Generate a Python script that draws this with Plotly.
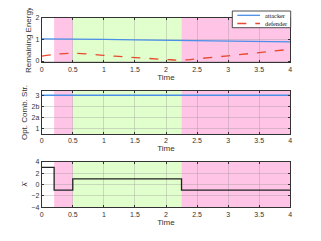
import plotly.graph_objects as go

# Data
t_att = [0, 0.5, 1, 1.5, 2, 2.5, 3, 3.5, 4]
attacker = [1.02, 1.02, 1.0, 0.98, 0.96, 0.94, 0.92, 0.9, 0.88]
t_def = [0, 0.2, 0.5, 1, 1.5, 2, 2.25, 2.5, 3, 3.5, 4]
defender = [0.23, 0.3, 0.36, 0.26, 0.16, 0.07, 0.04, 0.1, 0.24, 0.39, 0.54]
t_str = [0, 4]
strategy = [4, 4]  # position of "3" on the category axis
strat_ticks = [1, 2, 3, 4]
strat_labels = ["1", "2a", "2b", "3"]
t_lam = [0, 0.2, 0.2, 0.5, 0.5, 2.25, 2.25, 4]
lam = [3, 3, -1, -1, 1, 1, -1, -1]
region_bounds = [0.2, 0.5, 2.25, 4]
region_kind = ["pink", "green", "pink"]
region_colors = {"pink": "rgba(255,196,230,1)", "green": "rgba(224,255,204,1)"}
series_names = ["attacker", "defender"]
series_colors = ["#4a8fe8", "#e8482c"]
series_dash = ["solid", "dash"]

fig = go.Figure()
fig.add_trace(go.Scatter(x=t_att, y=attacker, mode="lines", name=series_names[0],
                         line=dict(color=series_colors[0], width=1.3), xaxis="x", yaxis="y"))
fig.add_trace(go.Scatter(x=t_def, y=defender, mode="lines", name=series_names[1], line_shape="spline",
                         line=dict(color=series_colors[1], width=1.3, dash="dash"), xaxis="x", yaxis="y"))
fig.add_trace(go.Scatter(x=t_str, y=strategy, mode="lines",
                         line=dict(color=series_colors[0], width=1.3), xaxis="x2", yaxis="y2"))
fig.add_trace(go.Scatter(x=t_lam, y=lam, mode="lines",
                         line=dict(color="#222222", width=1.3), xaxis="x3", yaxis="y3"))

shapes = []
for xr, yr in [("x", "y"), ("x2", "y2"), ("x3", "y3")]:
    for i, k in enumerate(region_kind):
        shapes.append(dict(type="rect", xref=xr, yref=yr + " domain",
                           x0=region_bounds[i], x1=region_bounds[i + 1], y0=0, y1=1,
                           fillcolor=region_colors[k], line_width=0, layer="below"))

OFF = 8  # page body margin
W, H = 321 - OFF, 241 - OFF
def px(x):
    return (x - OFF) / W
def py(y):
    return 1 - (y - OFF) / H

# manual legend (compact, MATLAB-like)
annotations = []
shapes.append(dict(type="rect", xref="paper", yref="paper", x0=px(232.3), x1=px(290.7),
                   y0=py(27.7), y1=py(11), fillcolor="white", line=dict(color="#222222", width=0.8),
                   layer="above"))
for i, (nm, c, d) in enumerate(zip(series_names, series_colors, series_dash)):
    yy = 15.3 + i * 8.2
    shapes.append(dict(type="line", xref="paper", yref="paper", x0=px(237.3), x1=px(260),
                       y0=py(yy), y1=py(yy), line=dict(color=c, width=1.3, dash=d), layer="above"))
    annotations.append(dict(x=px(263.5), y=py(yy), xref="paper", yref="paper", text=nm,
                            showarrow=False, xanchor="left", yanchor="middle", borderpad=0,
                            font=dict(family="Liberation Serif", size=6.3, color="#111111")))

tickfont = dict(family="Arial", size=7, color="#333333")
xcommon = dict(range=[0, 4], tickvals=[0, 0.5, 1, 1.5, 2, 2.5, 3, 3.5, 4],
               ticktext=["0", "0.5", "1", "1.5", "2", "2.5", "3", "3.5", "4"],
               showline=True, linecolor="#333333", linewidth=1, mirror="allticks",
               ticks="inside", ticklen=2, tickcolor="#333333",
               showgrid=True, gridcolor="rgba(150,150,150,0.35)", gridwidth=0.5,
               zeroline=False, tickfont=tickfont, domain=[px(41.7), px(290.3)], automargin=False,
               title=dict(text="Time", font=dict(family="Arial", size=8, color="#333333"), standoff=1))
ycommon = dict(showline=True, linecolor="#333333", linewidth=1, mirror="allticks",
               ticks="inside", ticklen=2, tickcolor="#333333", automargin=False,
               showgrid=True, gridcolor="rgba(150,150,150,0.35)", gridwidth=0.5,
               zeroline=False, tickfont=tickfont)
ytitle_font = dict(family="Arial", size=8, color="#333333")

fig.update_layout(
    width=W, height=H, margin=dict(l=0, r=0, t=0, b=0),
    paper_bgcolor="white", plot_bgcolor="white",
    shapes=shapes, annotations=annotations, showlegend=False,
    xaxis=dict(xcommon, anchor="y"),
    xaxis2=dict(xcommon, anchor="y2"),
    xaxis3=dict(xcommon, anchor="y3"),
    yaxis=dict(ycommon, domain=[py(62.3), py(17.7)], range=[-0.06, 2], tickvals=[0, 1, 2], anchor="x",
               title=dict(text="Remaining Energy", font=ytitle_font, standoff=2)),
    yaxis2=dict(ycommon, domain=[py(134), py(91)], range=[0.55, 4.38], tickvals=strat_ticks,
                ticktext=strat_labels, anchor="x2",
                title=dict(text="Opt. Comb. Str.", font=ytitle_font, standoff=2)),
    yaxis3=dict(ycommon, domain=[py(207.3), py(161.7)], range=[-4, 4], tickvals=[-4, -2, 0, 2, 4],
                anchor="x3", title=dict(text="λ̂", font=ytitle_font, standoff=2)),
)

fig.write_html("out.html")
